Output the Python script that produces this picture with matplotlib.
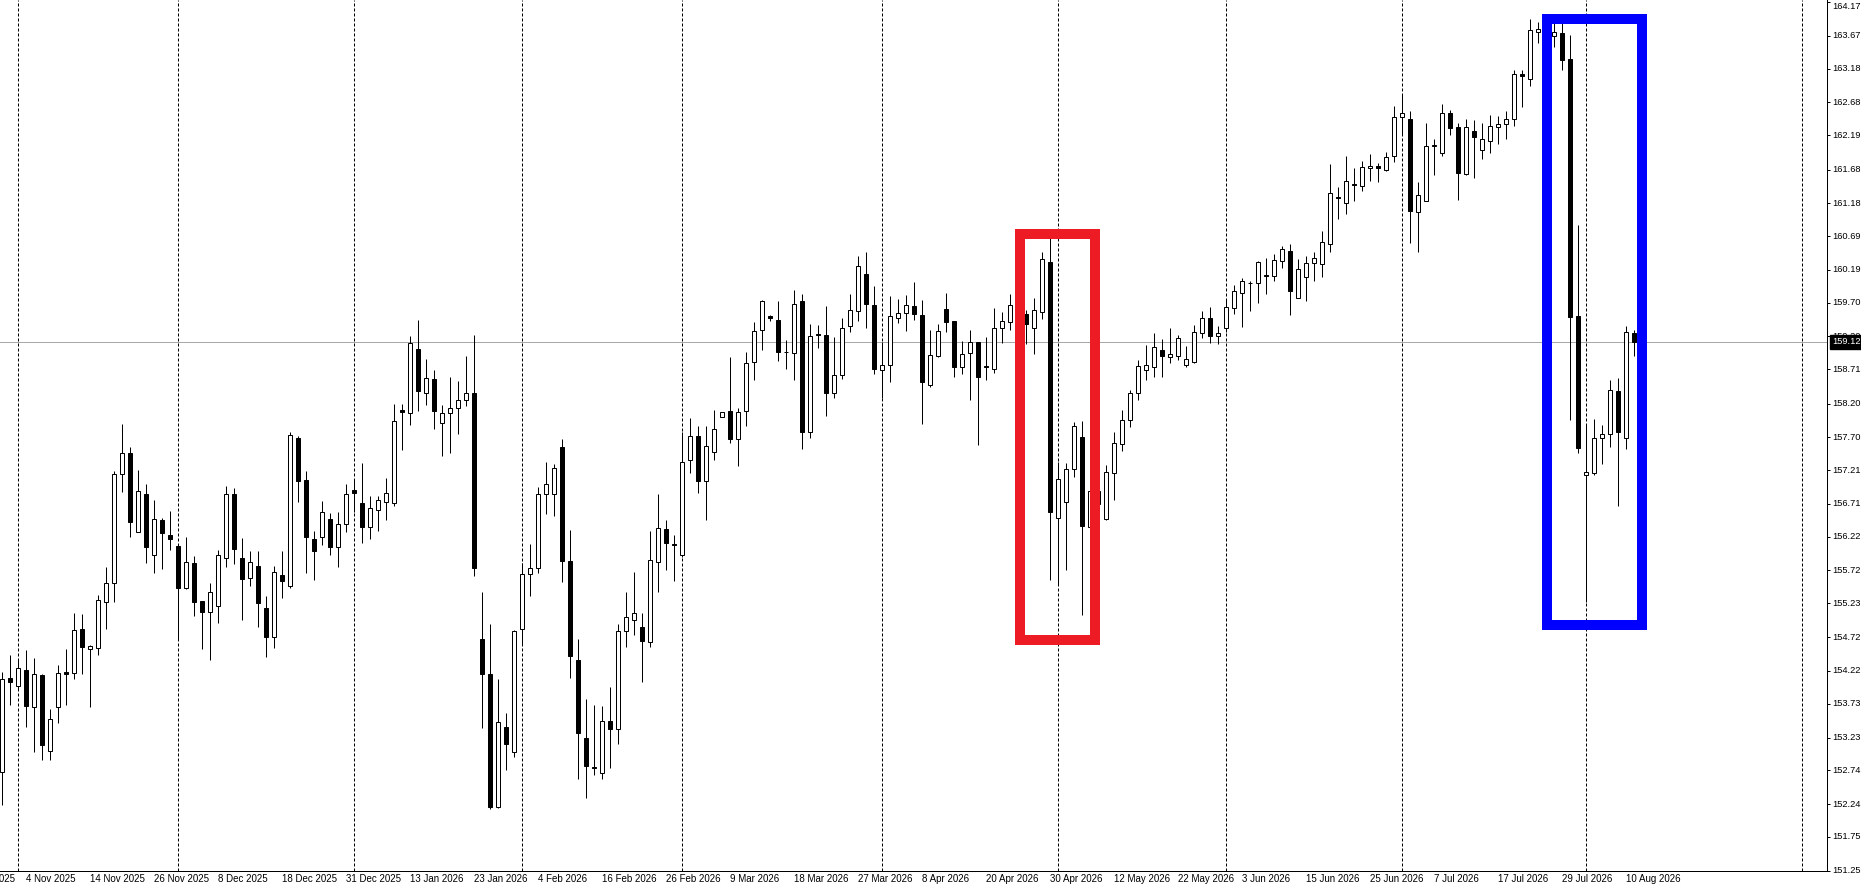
import numpy as np
import matplotlib
matplotlib.use("Agg")
import matplotlib.pyplot as plt
from matplotlib.patches import Rectangle
import matplotlib.transforms as mtransforms

# ---------------- data (daily OHLC, bar index 0..204) ----------------
opens = [152.71,154.11,154.00,154.24,153.69,154.16,153.03,153.69,154.20,154.19,
         154.84,154.54,154.56,155.25,155.53,157.15,157.47,156.29,156.85,155.94,
         156.47,156.25,156.08,155.46,155.82,155.26,155.10,155.19,155.90,156.86,
         155.90,155.60,155.78,155.15,154.73,155.65,155.49,157.68,157.06,156.18,
         156.22,156.48,156.06,156.40,156.92,156.72,156.37,156.62,156.74,156.72,
         158.10,158.055,159.01,158.36,158.56,157.91,158.06,158.13,158.25,158.35,
         154.69,154.18,152.19,153.38,153.02,154.84,155.66,155.75,156.85,156.86,
         157.55,155.86,154.39,153.22,152.79,152.70,153.47,153.35,154.82,154.98,
         154.88,154.65,155.84,156.33,156.11,155.95,157.36,157.71,157.04,157.48,
         158.00,158.09,157.67,158.09,158.82,159.30,159.50,159.45,158.97,158.95,
         159.73,157.77,159.23,159.22,158.35,158.63,159.36,159.58,160.13,159.67,
         158.70,158.78,159.48,159.54,159.65,159.52,158.48,158.90,159.61,159.43,
         158.74,158.95,159.11,158.76,158.72,159.32,159.41,159.58,159.53,159.33,
         159.56,160.30,156.49,156.73,157.22,157.70,156.37,156.90,156.48,157.16,
         157.60,157.95,158.35,158.70,158.75,158.99,158.89,158.90,158.78,158.82,
         159.25,159.48,159.21,159.33,159.62,159.84,159.99,159.99,160.11,160.10,
         160.32,160.47,159.77,160.09,160.29,160.27,160.57,161.27,161.18,161.46,
         161.44,161.70,161.73,161.675,161.89,162.46,162.44,161.05,161.22,162.03,
         161.93,162.52,162.31,161.62,162.25,161.98,162.11,162.32,162.355,162.43,
         163.10,163.03,163.73,163.78,163.67,163.71,163.32,159.50,157.13,157.17,
         157.68,157.74,158.39,157.68,159.25]
highs = [154.20,154.46,154.38,154.53,154.42,154.18,153.65,154.31,154.55,155.09,
         155.07,154.60,155.35,155.77,157.20,157.90,157.56,157.21,157.00,156.77,
         156.49,156.60,156.08,156.22,155.93,155.26,155.53,156.02,156.97,156.95,
         156.20,156.01,156.01,155.34,155.78,156.01,157.78,157.72,157.19,156.30,
         156.75,156.57,156.59,157.01,157.06,157.32,156.82,156.82,157.09,158.19,
         158.20,159.20,159.44,158.87,158.70,158.18,158.59,158.54,158.90,159.22,
         155.39,154.92,154.10,153.59,154.83,155.82,156.11,156.96,157.335,157.30,
         157.67,156.32,154.69,153.81,153.72,153.70,153.98,154.92,155.39,155.69,
         155.08,156.30,156.85,156.47,156.24,157.77,157.99,157.87,157.87,158.10,
         158.08,158.89,158.13,158.96,159.42,159.74,159.52,159.73,159.15,159.89,
         159.83,159.38,159.37,159.65,159.19,159.48,159.83,160.40,160.45,159.95,
         159.12,159.80,159.755,159.815,160.01,159.74,159.29,159.38,159.85,159.43,
         159.135,159.29,159.12,159.195,159.62,159.56,159.83,159.85,159.59,159.77,
         160.46,160.66,157.33,157.31,157.93,157.94,156.95,157.00,157.29,157.77,
         158.10,158.40,158.85,159.07,159.25,159.16,159.33,159.22,159.05,159.37,
         159.57,159.63,159.35,159.75,159.965,160.07,160.02,160.32,160.36,160.43,
         160.545,160.575,160.35,160.39,160.45,160.77,161.77,161.42,161.88,161.70,
         161.81,161.91,161.775,161.95,162.63,162.79,162.55,161.49,162.38,162.13,
         162.66,162.57,162.38,162.43,162.42,162.38,162.49,162.48,162.55,163.17,
         163.16,163.92,163.88,163.95,163.86,163.86,163.68,160.86,157.90,157.97,
         157.88,158.55,158.585,159.35,159.29]
lows = [152.23,153.71,153.94,153.38,153.02,152.89,152.89,153.45,153.71,154.10,
        154.18,153.68,154.46,154.85,155.25,156.89,156.22,156.29,155.83,155.68,
        155.74,156.02,154.70,155.44,155.04,154.55,154.39,154.94,155.77,155.81,
        154.98,155.48,154.88,154.43,154.56,155.31,155.46,156.73,155.68,155.57,
        156.10,155.94,155.77,156.29,156.58,156.13,156.19,156.31,156.47,156.67,
        157.51,157.88,158.09,158.18,157.82,157.42,157.47,157.75,158.16,155.63,
        153.37,152.16,152.18,152.74,152.94,154.61,155.33,155.68,156.55,156.53,
        155.55,154.11,152.62,152.33,152.67,152.61,152.77,153.13,154.58,154.76,
        154.05,154.57,155.39,155.73,155.56,155.92,157.16,156.87,156.47,157.36,
        158.00,157.62,157.27,157.86,158.55,159.00,159.43,158.84,158.72,158.55,
        157.52,157.69,159.03,158.02,158.28,158.57,159.27,159.43,159.32,158.64,
        158.28,158.525,159.40,159.28,159.45,157.89,158.45,158.89,159.27,158.60,
        158.64,158.26,157.59,158.55,158.66,159.10,159.30,159.45,159.08,158.94,
        159.46,155.58,155.51,155.73,157.10,155.05,156.30,156.55,156.46,156.76,
        157.50,157.85,158.25,158.55,158.60,158.60,158.80,158.85,158.75,158.80,
        159.17,159.10,159.08,159.26,159.53,159.34,159.57,159.70,159.83,160.03,
        160.21,159.52,159.77,159.72,160.03,160.09,160.45,160.95,161.02,161.22,
        161.37,161.51,161.49,161.66,161.80,162.20,160.59,160.45,161.22,161.60,
        161.88,162.20,161.23,161.60,161.56,161.84,161.93,162.06,162.13,162.33,
        162.62,162.93,163.57,163.60,163.51,163.16,157.96,157.47,155.24,157.14,
        157.30,157.56,156.68,157.52,158.91]
closes = [154.10,154.05,154.26,153.70,154.18,153.12,153.50,154.19,154.18,154.83,
          154.58,154.59,155.28,155.53,157.15,157.47,156.43,156.90,156.06,156.48,
          156.28,156.19,155.46,155.84,155.25,155.10,155.39,155.94,156.86,156.03,
          155.59,155.84,155.23,154.73,155.69,155.56,157.73,157.05,156.22,156.00,
          156.58,156.06,156.40,156.85,156.87,156.37,156.64,156.77,156.87,157.94,
          158.08,159.10,158.39,158.575,158.09,158.06,158.13,158.26,158.36,155.75,
          154.18,152.19,153.46,153.13,154.81,155.66,155.75,156.85,157.01,157.24,
          155.86,154.44,153.29,152.80,152.77,153.47,153.35,154.82,155.02,155.09,
          154.66,155.87,156.35,156.13,156.10,157.335,157.71,157.05,157.57,157.82,
          158.08,157.67,158.07,158.81,159.28,159.72,159.47,158.97,158.96,159.68,
          157.77,159.21,159.22,158.36,158.63,159.33,159.59,160.25,159.68,158.71,
          158.78,159.51,159.55,159.67,159.53,158.525,158.92,159.28,159.42,158.75,
          158.93,159.11,158.60,158.74,159.33,159.43,159.66,159.68,159.39,159.59,
          160.35,156.58,157.07,157.22,157.87,156.38,156.90,156.70,157.18,157.61,
          157.95,158.35,158.76,158.78,159.04,158.90,158.93,159.18,158.87,159.27,
          159.48,159.21,159.25,159.63,159.875,160.02,160.00,160.30,160.10,160.33,
          160.50,159.87,160.20,160.29,160.36,160.60,161.33,161.26,161.51,161.45,
          161.72,161.74,161.70,161.87,162.46,162.52,161.06,161.31,162.03,162.04,
          162.52,162.30,161.63,162.31,162.17,162.13,162.33,162.355,162.44,163.10,
          163.08,163.76,163.78,163.74,163.73,163.31,159.49,157.54,157.18,157.68,
          157.74,158.40,157.78,159.27,159.12]

date_label_bars = list(range(3, 204, 8))
date_labels = ["4 Nov 2025", "14 Nov 2025", "26 Nov 2025", "8 Dec 2025", "18 Dec 2025",
               "31 Dec 2025", "13 Jan 2026", "23 Jan 2026", "4 Feb 2026", "16 Feb 2026",
               "26 Feb 2026", "9 Mar 2026", "18 Mar 2026", "27 Mar 2026", "8 Apr 2026",
               "20 Apr 2026", "30 Apr 2026", "12 May 2026", "22 May 2026", "3 Jun 2026",
               "15 Jun 2026", "25 Jun 2026", "7 Jul 2026", "17 Jul 2026", "29 Jul 2026",
               "10 Aug 2026"]
partial_label_bar = -5
partial_label = "23 Oct 2025"
month_start_bars = [2, 22, 44, 65, 85, 110, 132, 153, 175, 198, 225]
price_ticks = [164.17, 163.67, 163.18, 162.68, 162.19, 161.68, 161.18, 160.69, 160.19,
               159.70, 159.20, 158.71, 158.20, 157.70, 157.21, 156.71, 156.22, 155.72,
               155.23, 154.72, 154.22, 153.73, 153.23, 152.74, 152.24, 151.75, 151.25]
last_price = 159.12
red_box = (127.2, 136.6, 154.68, 160.73)    # x0, x1, y0, y1 (bar index / price)
blue_box = (193.1, 205.0, 154.91, 163.92)

# ---------------- figure ----------------
W, H = 1861, 886
fig = plt.figure(figsize=(W / 100, H / 100), dpi=100)
AX_RIGHT = 1827
AX_BOTTOM = 871
ax = fig.add_axes([0, (H - AX_BOTTOM) / H, AX_RIGHT / W, AX_BOTTOM / H])
PX = 72 / 100  # one pixel in points

FONT = dict(family="Liberation Sans", size=7.0)
YFONT = dict(family="Liberation Sans", size=6.7)

ax.set_xlim(-0.2875, 228.09)
ax.set_ylim(164.205 - 0.014881 * AX_BOTTOM, 164.205)

O = np.array(opens); Hh = np.array(highs); L = np.array(lows); C = np.array(closes)
x = np.arange(len(O))
up = C >= O
bb = np.minimum(O, C)
bh = np.abs(C - O)

# month separators
for b in month_start_bars:
    ax.axvline(b, color="black", lw=PX, linestyle=(0, (3, 2)), zorder=1)

# last price line
ax.axhline(last_price, color="#A8A8A8", lw=PX, zorder=1)

# candles
ax.vlines(x, L, Hh, color="black", lw=PX, zorder=2)
ax.bar(x[up], bh[up], bottom=bb[up], width=0.5, facecolor="white",
       edgecolor="black", linewidth=PX, zorder=3)
ax.bar(x[~up], bh[~up], bottom=bb[~up], width=0.5, facecolor="black",
       edgecolor="black", linewidth=PX, zorder=3)

# highlight boxes
for (x0, x1, y0, y1), col in [(red_box, "#ED1C24"), (blue_box, "#0000FF")]:
    ax.add_patch(Rectangle((x0, y0), x1 - x0, y1 - y0, fill=False,
                           edgecolor=col, linewidth=10 * PX, zorder=5,
                           joinstyle="miter"))

# spines
for s in ["left", "top"]:
    ax.spines[s].set_visible(False)
for s in ["right", "bottom"]:
    ax.spines[s].set_linewidth(PX)
    ax.spines[s].set_color("black")

# x ticks
ax.set_xticks(date_label_bars)
ax.set_xticklabels(date_labels, ha="left", **FONT)
ax.tick_params(axis="x", length=0, pad=3 * PX)
trans_bx = mtransforms.blended_transform_factory(ax.transData, ax.transAxes)
ax.text(partial_label_bar, 0, partial_label,
        transform=trans_bx + mtransforms.ScaledTranslation(0, -3 / 100, fig.dpi_scale_trans),
        ha="left", va="top", clip_on=False, **FONT)

# y ticks (marks) + labels as text
ax.yaxis.tick_right()
ax.set_yticks([p for p in price_ticks if p >= ax.get_ylim()[0]])
ax.set_yticklabels([])
ax.tick_params(axis="y", length=3 * PX, width=PX, direction="out")
trans_ay = mtransforms.blended_transform_factory(ax.transAxes, ax.transData)
for p in price_ticks:
    dy = 0
    if p == price_ticks[0]:
        dy = -4
    off = mtransforms.ScaledTranslation(5 / 100, dy / 100, fig.dpi_scale_trans)
    ax.text(1, p, f"{p:.2f}", transform=trans_ay + off, ha="left", va="center",
            clip_on=False, zorder=6, **YFONT)

# current price tag
ax.text(1, last_price, f"{last_price:.2f}",
        transform=trans_ay + mtransforms.ScaledTranslation(5 / 100, 0, fig.dpi_scale_trans),
        ha="left", va="center", color="white", clip_on=False, zorder=10,
        bbox=dict(boxstyle="square,pad=0.25", facecolor="black", edgecolor="black"), **YFONT)

fig.savefig("out.png", dpi=100)
